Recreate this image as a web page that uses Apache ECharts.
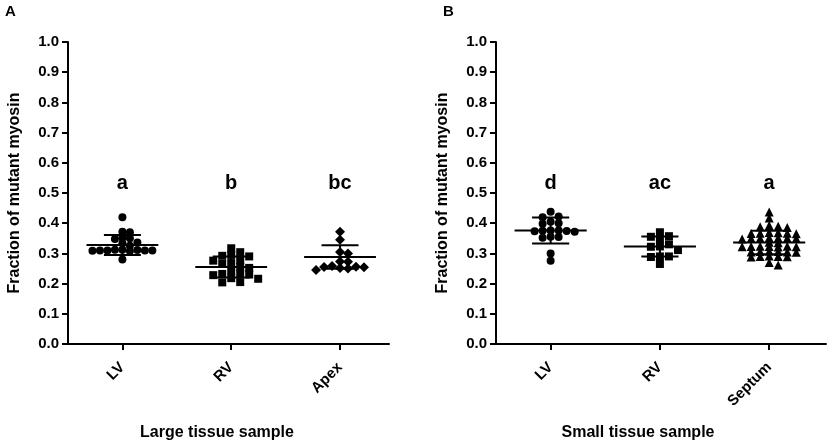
<!DOCTYPE html>
<html>
<head>
<meta charset="utf-8">
<script src="https://cdn.jsdelivr.net/npm/echarts@6/dist/echarts.min.js"></script>
<style>
  html, body { margin: 0; padding: 0; background: #fff; }
  #chart { width: 829px; height: 447px; }
</style>
</head>
<body>
<div id="chart"></div>
<script>
// groups and values
const groupsA = ['LV', 'RV', 'Apex'];
const groupsB = ['LV', 'RV', 'Septum'];

const lvLarge = [0.42, 0.372, 0.37, 0.352, 0.35, 0.348, 0.336, 0.334, 0.325,
  0.312, 0.311, 0.31, 0.31, 0.309, 0.31, 0.308, 0.312, 0.31, 0.28];
const rvLarge = [0.317, 0.304, 0.295, 0.292, 0.29, 0.278, 0.276, 0.268, 0.265,
  0.255, 0.252, 0.242, 0.233, 0.232, 0.23, 0.228, 0.218, 0.216, 0.205, 0.204];
const apexLarge = [0.372, 0.345, 0.305, 0.30, 0.273, 0.272, 0.258, 0.256,
  0.255, 0.254, 0.252, 0.25, 0.245];

const lvSmall = [0.438, 0.422, 0.42, 0.405, 0.40, 0.398, 0.376, 0.376, 0.375,
  0.374, 0.373, 0.372, 0.355, 0.354, 0.352, 0.30, 0.276];
const rvSmall = [0.37, 0.357, 0.355, 0.347, 0.33, 0.323, 0.322, 0.311, 0.29,
  0.29, 0.288, 0.265];
const septumSmall = [0.437, 0.417, 0.392, 0.39, 0.388, 0.386,
  0.369, 0.368, 0.367, 0.367, 0.366, 0.365,
  0.352, 0.351, 0.35, 0.35, 0.349, 0.349, 0.348,
  0.337, 0.335,
  0.324, 0.324, 0.323, 0.323, 0.322, 0.322, 0.321,
  0.307, 0.306, 0.306, 0.305, 0.305, 0.304,
  0.291, 0.29, 0.29, 0.289, 0.288,
  0.27, 0.262];

// mean and SD bars as drawn
const meansA = [0.328, 0.255, 0.288];
const sdsA = [0.033, 0.035, 0.039];
const meansB = [0.376, 0.323, 0.336];
const sdsB = [0.043, 0.033, 0.039];

const lettersA = ['a', 'b', 'bc'];
const lettersB = ['d', 'ac', 'a'];
const letterLevel = 0.53;

const FONT = 'Liberation Sans, Arial, Helvetica, sans-serif';
const PX_X = 109; // px per category unit, only for spreading dots
const PX_Y = 302; // px per 1.0 on the y axis

// beeswarm in rows: put each dot in the nearest free slot
function swarm(values, center, gap, vgap) {
  const sorted = values.slice().sort((a, b) => b - a);
  const half = gap / 2;
  const placed = [];
  sorted.forEach(v => {
    for (let k = 0; k < 60; k++) {
      const off = (k % 2 ? 1 : -1) * Math.ceil(k / 2) * half;
      const hit = placed.some(p =>
        Math.abs(p[0] - off) < gap - 0.5 && Math.abs(p[1] - v) * PX_Y < vgap);
      if (!hit) { placed.push([off, v]); break; }
    }
  });
  return placed.map(p => [center + p[0] / PX_X, p[1]]);
}

function dots(values, center, symbol, size, idx, gap, vgap) {
  return {
    type: 'scatter',
    xAxisIndex: idx,
    yAxisIndex: idx,
    symbol: symbol,
    symbolSize: size,
    itemStyle: { color: '#000', opacity: 1 },
    silent: true,
    data: swarm(values, center, gap, vgap)
  };
}

function meanSd(means, sds, idx) {
  return {
    type: 'custom',
    xAxisIndex: idx,
    yAxisIndex: idx,
    silent: true,
    z: 5,
    data: means.map((m, i) => [i + 1, m, sds[i]]),
    renderItem: function (params, api) {
      const x = api.value(0), m = api.value(1), sd = api.value(2);
      const seg = (x1, y1, x2, y2) => {
        const a = api.coord([x1, y1]), b = api.coord([x2, y2]);
        return {
          type: 'line',
          shape: { x1: a[0], y1: a[1], x2: b[0], y2: b[1] },
          style: { stroke: '#000', lineWidth: 2 }
        };
      };
      return {
        type: 'group',
        children: [
          seg(x - 0.33, m, x + 0.33, m),
          seg(x - 0.17, m + sd, x + 0.17, m + sd),
          seg(x - 0.17, m - sd, x + 0.17, m - sd),
          seg(x, m - sd, x, m + sd)
        ]
      };
    }
  };
}

function letters(list, idx) {
  return {
    type: 'scatter',
    xAxisIndex: idx,
    yAxisIndex: idx,
    symbolSize: 1,
    itemStyle: { color: 'rgba(0,0,0,0)', opacity: 1 },
    silent: true,
    label: {
      show: true,
      position: 'inside',
      formatter: p => p.name,
      color: '#000',
      fontFamily: FONT,
      fontWeight: 'bold',
      fontSize: 20
    },
    data: list.map((t, i) => ({ name: t, value: [i + 1, letterLevel] }))
  };
}

function xAxis(groups, idx, max) {
  return {
    type: 'value',
    gridIndex: idx,
    min: 0.5,
    max: max,
    splitLine: { show: false },
    axisLine: { show: true, lineStyle: { color: '#000', width: 2 } },
    axisTick: { show: true, length: 6, customValues: [1, 2, 3], lineStyle: { color: '#000', width: 2 } },
    axisLabel: {
      customValues: [1, 2, 3],
      formatter: v => groups[Math.round(v) - 1],
      rotate: 45,
      margin: 21,
      color: '#000',
      fontFamily: FONT,
      fontWeight: 'bold',
      fontSize: 15
    }
  };
}

function yAxis(idx) {
  return {
    type: 'value',
    gridIndex: idx,
    min: 0,
    max: 1,
    interval: 0.1,
    name: 'Fraction of mutant myosin',
    nameLocation: 'middle',
    nameGap: 45,
    nameTextStyle: { color: '#000', fontFamily: FONT, fontWeight: 'bold', fontSize: 16 },
    splitLine: { show: false },
    axisLine: { show: true, lineStyle: { color: '#000', width: 2 } },
    axisTick: { show: true, length: 6, lineStyle: { color: '#000', width: 2 } },
    axisLabel: {
      formatter: v => v.toFixed(1),
      margin: 9,
      color: '#000',
      fontFamily: FONT,
      fontWeight: 'bold',
      fontSize: 15
    }
  };
}

const chart = echarts.init(document.getElementById('chart'));

const option = {
  backgroundColor: '#ffffff',
  animation: false,
  grid: [
    { left: 68, top: 42, width: 321, height: 302, outerBoundsMode: 'none' },
    { left: 496, top: 42, width: 330, height: 302, outerBoundsMode: 'none' }
  ],
  xAxis: [xAxis(groupsA, 0, 3.45), xAxis(groupsB, 1, 3.52)],
  yAxis: [yAxis(0), yAxis(1)],
  graphic: [
    { type: 'text', x: 5, y: 4, style: { text: 'A', font: 'bold 15px ' + FONT, fill: '#000' } },
    { type: 'text', x: 443, y: 4, style: { text: 'B', font: 'bold 15px ' + FONT, fill: '#000' } },
    { type: 'text', x: 217, y: 433, style: { text: 'Large tissue sample', font: 'bold 16px ' + FONT, fill: '#000', align: 'center', verticalAlign: 'middle' } },
    { type: 'text', x: 638, y: 433, style: { text: 'Small tissue sample', font: 'bold 16px ' + FONT, fill: '#000', align: 'center', verticalAlign: 'middle' } }
  ],
  series: [
    dots(lvLarge, 1, 'circle', 8, 0, 7.5, 5),
    dots(rvLarge, 2, 'rect', 8, 0, 9, 6),
    dots(apexLarge, 3, 'diamond', 10, 0, 8, 6),
    meanSd(meansA, sdsA, 0),
    letters(lettersA, 0),
    dots(lvSmall, 1, 'circle', 8, 1, 8, 6),
    dots(rvSmall, 2, 'rect', 8, 1, 9, 6),
    dots(septumSmall, 3, 'triangle', 9, 1, 9, 4),
    meanSd(meansB, sdsB, 1),
    letters(lettersB, 1)
  ]
};

chart.setOption(option);
</script>
</body>
</html>
